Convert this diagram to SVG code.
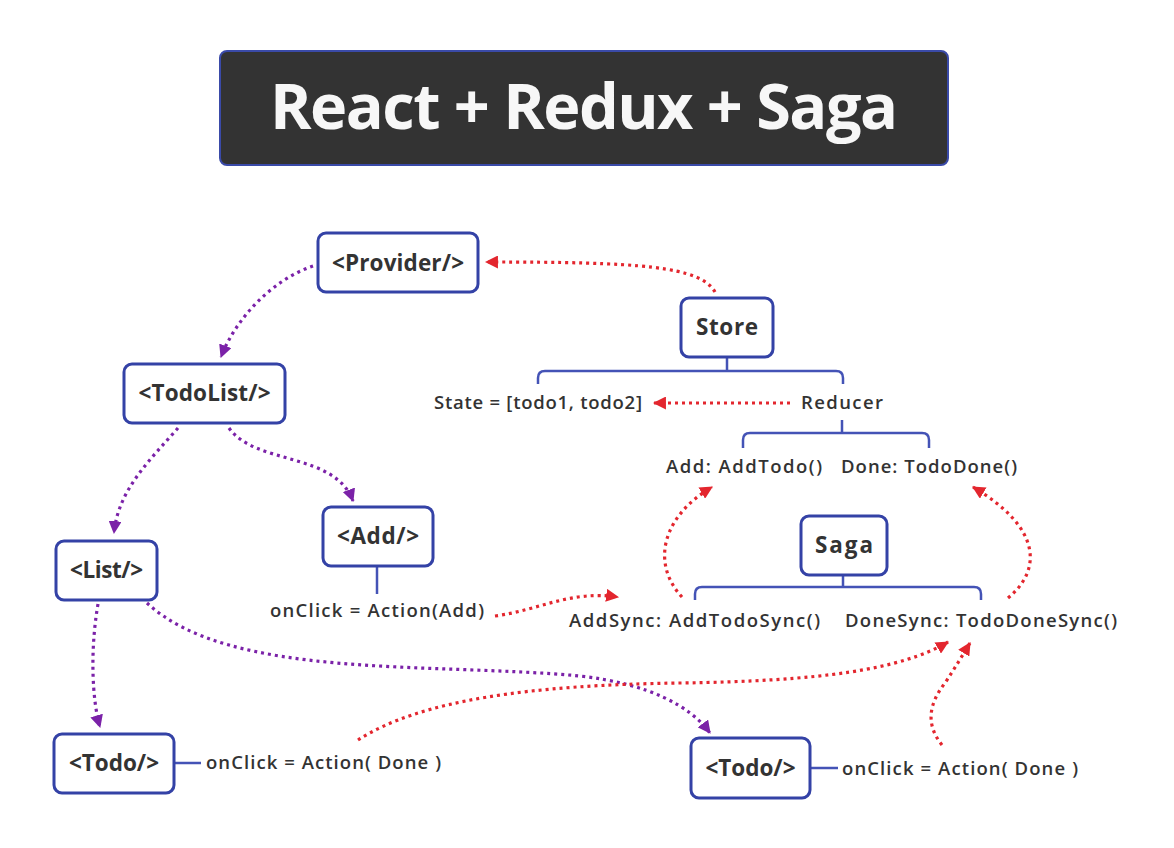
<svg xmlns="http://www.w3.org/2000/svg" width="1174" height="848" viewBox="0 0 1174 848">
<defs>
<style>
.node rect{fill:#ffffff;stroke:#3442a6;stroke-width:3}
.nt{font-family:"Open Sans","Liberation Sans",sans-serif;font-weight:700;font-size:22.5px;fill:#333333;text-anchor:middle}
.lb{font-family:"Open Sans","Liberation Sans",sans-serif;font-weight:600;font-size:18.5px;fill:#333333}
.br{fill:none;stroke:#4453b6;stroke-width:2.5;stroke-linecap:butt}
.pu{fill:none;stroke:#7b22a8;stroke-width:3.2;stroke-dasharray:3 4}
.rd{fill:none;stroke:#e3262e;stroke-width:3.2;stroke-dasharray:3 4}
</style>
<marker id="ap" viewBox="0 0 12 12" refX="11" refY="6" markerWidth="13" markerHeight="13" markerUnits="userSpaceOnUse" orient="auto"><path d="M0,0 L12,6 L0,12 z" fill="#7b22a8"/></marker>
<marker id="ar" viewBox="0 0 12 12" refX="11" refY="6" markerWidth="13" markerHeight="13" markerUnits="userSpaceOnUse" orient="auto"><path d="M0,0 L12,6 L0,12 z" fill="#e3262e"/></marker>
</defs>
<rect width="1174" height="848" fill="#ffffff"/>
<g id="title">
<rect x="220" y="51" width="728" height="114" rx="7" fill="#333333" stroke="#3a4aa8" stroke-width="2"/>
<text x="584" y="129" font-family="'Open Sans','Liberation Sans',sans-serif" font-weight="700" font-size="63" fill="#f7f7f7" text-anchor="middle" textLength="628">React + Redux + Saga</text>
</g>
<g id="connectors">
<path class="br" d="M727,357 V371 M538,384 V378 Q538,371 545,371 H836 Q843,371 843,378 V384"/>
<path class="br" d="M842,420 V433 M743,448 V440 Q743,433 750,433 H922 Q929,433 929,440 V448"/>
<path class="br" d="M843,575 V587 M695,600 V594 Q695,587 702,587 H974 Q981,587 981,594 V600"/>
<path class="br" d="M377,566 V594"/>
<path class="br" d="M174,763 H201"/>
<path class="br" d="M810,768 H838"/>
<path class="rd" d="M715,292 C700,266 640,262 486,262" marker-end="url(#ar)"/>
<path class="pu" d="M313,266 C272,280 236,318 221,357" marker-end="url(#ap)"/>
<path class="pu" d="M178,428 C150,460 118,490 114,533" marker-end="url(#ap)"/>
<path class="pu" d="M229,428 C255,465 335,452 353,501" marker-end="url(#ap)"/>
<path class="pu" d="M98,604 C90,650 92,700 100,727" marker-end="url(#ap)"/>
<path class="pu" d="M147,603 C230,680 430,662 580,676 C650,684 690,706 710,733" marker-end="url(#ap)"/>
<path class="rd" d="M790,403 L654,403" marker-end="url(#ar)"/>
<path class="rd" d="M495,616 C540,610 570,590 618,597" marker-end="url(#ar)"/>
<path class="rd" d="M682,597 C652,565 660,518 712,487" marker-end="url(#ar)"/>
<path class="rd" d="M1008,598 C1042,570 1042,528 973,487" marker-end="url(#ar)"/>
<path class="rd" d="M358,740 C420,700 530,685 680,683 C820,681 900,670 948,642" marker-end="url(#ar)"/>
<path class="rd" d="M942,745 C926,725 928,705 945,683 C955,668 962,656 970,643" marker-end="url(#ar)"/>
</g>
<g id="provider" class="node"><rect x="318" y="233" width="160" height="59" rx="8"/><text class="nt" x="398" y="271" textLength="132">&lt;Provider/&gt;</text></g>
<g id="store" class="node"><rect x="681" y="298" width="92" height="59" rx="8"/><text class="nt" x="727" y="335" textLength="62">Store</text></g>
<g id="todolist" class="node"><rect x="124" y="364" width="161" height="59" rx="8"/><text class="nt" x="204.5" y="401" textLength="132">&lt;TodoList/&gt;</text></g>
<g id="list" class="node"><rect x="56" y="541" width="101" height="59" rx="8"/><text class="nt" x="106.5" y="578" textLength="73">&lt;List/&gt;</text></g>
<g id="add" class="node"><rect x="323" y="507" width="110" height="59" rx="8"/><text class="nt" x="378" y="544" textLength="82">&lt;Add/&gt;</text></g>
<g id="saga" class="node"><rect x="801" y="516" width="86" height="59" rx="8"/><text class="nt" x="844" y="553" textLength="58">Saga</text></g>
<g id="todo1" class="node"><rect x="54" y="734" width="120" height="59" rx="8"/><text class="nt" x="114" y="771" textLength="90">&lt;Todo/&gt;</text></g>
<g id="todo2" class="node"><rect x="691" y="738" width="119" height="60" rx="8"/><text class="nt" x="750.5" y="776" textLength="90">&lt;Todo/&gt;</text></g>
<g id="labels">
<text class="lb" x="434" y="409" textLength="208">State = [todo1, todo2]</text>
<text class="lb" x="801" y="409" textLength="82">Reducer</text>
<text class="lb" x="666" y="473" textLength="156">Add: AddTodo()</text>
<text class="lb" x="841" y="473" textLength="176">Done: TodoDone()</text>
<text class="lb" x="270" y="617" textLength="214">onClick = Action(Add)</text>
<text class="lb" x="569" y="627" textLength="251">AddSync: AddTodoSync()</text>
<text class="lb" x="845" y="627" textLength="272">DoneSync: TodoDoneSync()</text>
<text class="lb" x="206" y="769" textLength="235">onClick = Action( Done )</text>
<text class="lb" x="842" y="775" textLength="236">onClick = Action( Done )</text>
</g>
</svg>
